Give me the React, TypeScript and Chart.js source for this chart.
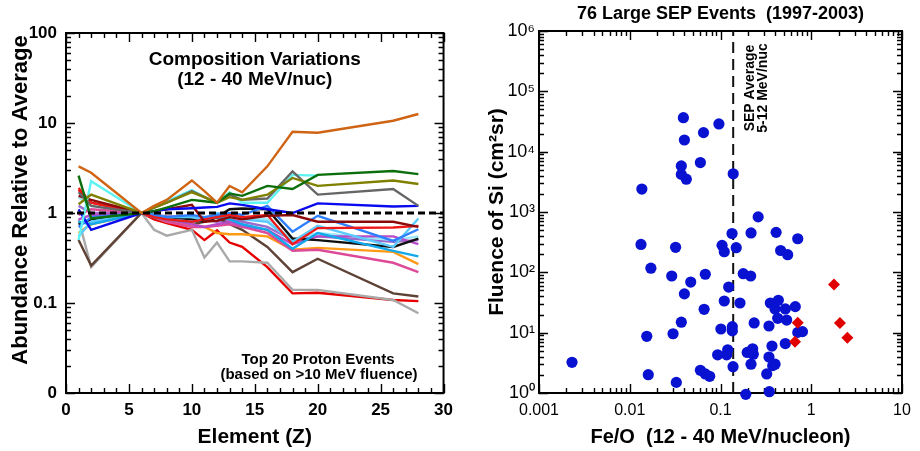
import React, { useEffect, useRef } from 'react';
import { Chart, registerables } from 'chart.js';

Chart.register(...registerables);

const FONT = '"Liberation Sans", Arial, Helvetica, sans-serif';
Chart.defaults.font.family = FONT;
Chart.defaults.color = '#000';

// ---------- Left panel: abundance relative to average vs. element ----------
const elementZ = [1, 2, 6, 7, 8, 10, 11, 12, 13, 14, 16, 18, 20, 26, 28];

const eventA = [3.3, 2.8, 1, 1.2, 1.4, 2.3, 1.75, 1.3, 2.0, 1.7, 3.3, 8.0, 7.8, 10.6, 12.6];
const eventB = [2.6, 0.87, 1, 1.05, 1.15, 1.4, 1.35, 1.3, 1.65, 1.55, 2.0, 1.85, 2.65, 2.93, 2.7];
const eventC = [1.25, 1.6, 1, 1.15, 1.3, 1.7, 1.5, 1.3, 1.5, 1.4, 1.6, 2.45, 2.0, 2.3, 2.1];
const eventD = [1.7, 1.2, 1, 1.15, 1.3, 1.75, 1.5, 1.3, 1.6, 1.4, 1.45, 2.9, 1.6, 1.85, 1.2];
const eventE = [0.5, 2.25, 1, 1.15, 1.35, 1.8, 1.5, 1.3, 1.7, 1.3, 1.3, 2.65, 2.6, null, null];
const eventF = [1.1, 0.65, 1, 1.05, 1.1, 1.13, 1.15, 1.17, 1.28, 1.23, 1.1, 1.0, 1.28, 1.18, 1.2];
const eventG = [1.55, 1.4, 1, 1.05, 1.1, 1.23, 0.8, 0.82, 0.9, 0.85, 0.93, 0.95, 0.8, 0.8, 0.7];
const eventH = [1.9, 1.3, 1, 0.9, 0.85, 0.8, 0.85, 0.9, 0.95, 0.9, 0.95, 0.45, 0.68, 0.69, 0.72];
const eventI = [0.7, 0.9, 1, 0.95, 0.9, 0.95, 0.9, 0.95, 1.0, 0.95, 1.2, 0.62, 0.93, 0.49, 0.66];
const eventJ = [0.8, 0.75, 1, 0.9, 0.85, 0.8, 0.85, 0.9, 0.85, 0.75, 0.65, 0.4, 0.6, 0.38, 0.33];
const eventK = [0.55, 0.8, 1, 0.95, 0.9, 0.9, 0.85, 1.0, 0.95, 0.85, 0.8, 0.48, 0.72, 0.42, 0.87];
const eventL = [0.75, 0.85, 1, 0.95, 0.9, 0.85, 0.8, 0.9, 1.1, 1.12, 1.1, 0.52, 0.5, 0.42, 0.52];
const eventM = [0.85, 0.95, 1, 0.9, 0.85, 0.75, 0.7, 0.75, 0.8, 0.72, 0.65, 0.45, 0.55, 0.55, 0.45];
const eventN = [0.95, 1.1, 1, 0.9, 0.8, 0.7, 0.7, 0.72, 0.75, 0.7, 0.6, 0.38, 0.39, 0.28, 0.22];
const eventO = [0.6, 0.75, 1, 0.9, 0.8, 0.75, 0.7, 0.6, 0.58, 0.58, 0.55, 0.39, 0.41, 0.37, 0.27];
const eventP = [0.5, 0.26, 1, 0.9, 0.8, 0.75, 0.8, 0.9, 0.75, 0.65, 0.42, 0.22, 0.31, 0.128, 0.118];
const eventQ = [0.85, 0.25, 1, 0.65, 0.56, 0.65, 0.32, 0.47, 0.29, 0.29, 0.28, 0.14, 0.14, 0.108, 0.077];
const eventR = [1.8, 1.3, 1, 0.85, 0.77, 0.65, 0.5, 0.64, 0.47, 0.42, 0.25, 0.128, 0.13, 0.108, 0.105];
const eventS = [1.5, 1.2, 1, 0.95, 0.9, 0.85, 0.9, 0.95, 0.9, 0.88, 0.85, 0.5, 0.6, 0.5, 0.55];
const eventT = [1.2, 1.0, 1, 0.95, 0.92, 0.9, 0.85, 0.8, 0.85, 0.8, 0.7, 0.5, 0.55, 0.48, 0.5];

const eventSeries = [
  eventA, eventB, eventC, eventD, eventE, eventF, eventG, eventH, eventI, eventJ,
  eventK, eventL, eventM, eventN, eventO, eventP, eventQ, eventR, eventS, eventT,
];

const eventColors = [
  '#CF6414', '#0B6E0B', '#808000', '#666666', '#5EF2F2', '#0A0AEE', '#8C0A0A', '#EE1A1A', '#2F80FF', '#12A8EC',
  '#5CCBFF', '#111111', '#B84CC8', '#DC4A98', '#FF9A16', '#5E4236', '#A9A9A9', '#E80000', '#9CE8FA', '#9A6ACC',
];

const averageLevel = 1;
const abundanceTicks = [0.01, 0.1, 1, 10, 100];
const abundanceTickLabels = ['0', '0.1', '1', '10', '100'];
const elementTicks = [0, 5, 10, 15, 20, 25, 30];

// ---------- Right panel: Si fluence vs. Fe/O ----------
const feO = [
  0.039, 0.096, 0.065, 0.040, 0.037, 0.060, 0.037, 0.042, 0.138, 0.0136,
  0.26, 0.134, 0.217, 0.41, 0.71, 0.0133, 0.032, 0.104, 0.110, 0.149,
  0.46, 0.55, 0.0171, 0.029, 0.068, 0.047, 0.178, 0.215, 0.123, 0.040,
  0.110, 0.164, 0.354, 0.434, 0.399, 0.518, 0.667, 0.066, 0.427, 0.536,
  0.037, 0.235, 0.342, 0.101, 0.135, 0.135, 0.030, 0.0154, 0.71, 0.80,
  0.518, 0.369, 0.120, 0.093, 0.117, 0.197, 0.226, 0.230, 0.342, 0.00231,
  0.217, 0.399, 0.376, 0.1375, 0.060, 0.068, 0.076, 0.016, 0.323, 0.0326,
  0.190, 0.345,
];
const siFluence = [
  36600, 28800, 20700, 15600, 5800, 6600, 4200, 3500, 4300, 2400,
  830, 440, 450, 460, 360, 290, 260, 280, 220, 256,
  230, 196, 117, 87, 93, 69, 95, 87, 57, 44,
  33.5, 31, 31, 34.4, 24.7, 24.7, 27, 24.4, 17.3, 16.2,
  14.9, 14.5, 12.9, 11.5, 12.6, 10.7, 9.6, 8.7, 10.1, 10.4,
  6.6, 6.0, 5.2, 4.3, 4.3, 4.7, 5.4, 4.4, 3.95, 3.23,
  3.0, 3.0, 2.84, 2.73, 2.38, 2.07, 1.89, 2.01, 2.07, 1.5,
  0.95, 1.05,
];
const feORich = [1.78, 0.71, 2.07, 2.5, 0.662];
const siRich = [63, 14.6, 14.5, 8.2, 7.1];

const sepAverageFeO = 0.138;
const feOTicks = [0.001, 0.01, 0.1, 1, 10];
const feOTickLabels = ['0.001', '0.01', '0.1', '1', '10'];
const fluenceTicks = [1, 10, 100, 1000, 10000, 100000, 1000000];
const fluenceTickLabels = ['10⁰', '10¹', '10²', '10³', '10⁴', '10⁵', '10⁶'];

// ---------- helpers ----------
type Mark = { value: number; major: boolean };

function linearMarks(min: number, max: number, step: number, majorEvery: number): Mark[] {
  const out: Mark[] = [];
  for (let v = min; v <= max + 1e-9; v += step) {
    out.push({ value: v, major: Math.abs(v / majorEvery - Math.round(v / majorEvery)) < 1e-9 });
  }
  return out;
}

function logMarks(min: number, max: number): Mark[] {
  const out: Mark[] = [];
  const d0 = Math.round(Math.log10(min));
  const d1 = Math.round(Math.log10(max));
  for (let d = d0; d < d1; d++) {
    for (let k = 1; k < 10; k++) out.push({ value: k * Math.pow(10, d), major: k === 1 });
  }
  out.push({ value: max, major: true });
  return out;
}

function frameTicksPlugin(xMarks: Mark[], yMarks: Mark[]) {
  return {
    id: 'frameTicks',
    beforeDatasetsDraw(chart: any) {
      const { ctx, chartArea } = chart;
      const { left, right, top, bottom } = chartArea;
      const xs = chart.scales.x;
      const ys = chart.scales.y;
      ctx.save();
      ctx.strokeStyle = '#000';
      ctx.lineWidth = 1.4;
      ctx.beginPath();
      for (const m of xMarks) {
        const p = Math.round(xs.getPixelForValue(m.value)) + 0.5;
        const len = m.major ? 9 : 5;
        ctx.moveTo(p, bottom);
        ctx.lineTo(p, bottom - len);
        ctx.moveTo(p, top);
        ctx.lineTo(p, top + len);
      }
      for (const m of yMarks) {
        const p = Math.round(ys.getPixelForValue(m.value)) + 0.5;
        const len = m.major ? 9 : 5;
        ctx.moveTo(left, p);
        ctx.lineTo(left + len, p);
        ctx.moveTo(right, p);
        ctx.lineTo(right - len, p);
      }
      ctx.stroke();
      ctx.lineWidth = 2;
      ctx.strokeRect(left, top, right - left, bottom - top);
      ctx.restore();
    },
  };
}

type Label = {
  text: string;
  x: (c: any) => number;
  y: (c: any) => number;
  size: number;
  bold?: boolean;
  rotate?: boolean;
};

function labelsPlugin(labels: Label[]) {
  return {
    id: 'panelLabels',
    afterDraw(chart: any) {
      const { ctx } = chart;
      for (const l of labels) {
        ctx.save();
        ctx.fillStyle = '#000';
        ctx.font = `${l.bold === false ? '' : 'bold '}${l.size}px ${FONT}`;
        ctx.textAlign = 'center';
        ctx.textBaseline = 'middle';
        ctx.translate(l.x(chart), l.y(chart));
        if (l.rotate) ctx.rotate(-Math.PI / 2);
        ctx.fillText(l.text, 0, 0);
        ctx.restore();
      }
    },
  };
}

const midX = (c: any) => (c.chartArea.left + c.chartArea.right) / 2;

function useChart(make: (canvas: HTMLCanvasElement) => Chart) {
  const ref = useRef<HTMLCanvasElement | null>(null);
  useEffect(() => {
    if (!ref.current) return;
    const chart = make(ref.current);
    return () => chart.destroy();
  }, []);
  return ref;
}

function CompositionPanel() {
  const ref = useChart((canvas) => {
    const lineSets = eventSeries.map((vals, i) => ({
      data: elementZ
        .map((z, j) => ({ x: z, y: vals[j] }))
        .filter((p) => p.y !== null && p.y !== undefined),
      borderColor: eventColors[i],
      backgroundColor: eventColors[i],
      borderWidth: 2.4,
      showLine: true,
      pointRadius: 0,
      tension: 0,
    }));
    const averageSet = {
      data: [
        { x: 0, y: averageLevel },
        { x: 30, y: averageLevel },
      ],
      borderColor: '#000',
      borderWidth: 3,
      borderDash: [7, 4],
      showLine: true,
      pointRadius: 0,
    };
    return new Chart(canvas, {
      type: 'scatter',
      data: { datasets: [averageSet, ...lineSets] as any },
      plugins: [
        frameTicksPlugin(linearMarks(0, 30, 1, 5), logMarks(0.01, 100)),
        labelsPlugin([
          { text: 'Composition Variations', x: midX, y: (c) => c.chartArea.top + 27, size: 19 },
          { text: '(12 - 40 MeV/nuc)', x: midX, y: (c) => c.chartArea.top + 47, size: 19 },
          { text: 'Top 20 Proton Events', x: (c) => c.chartArea.left + 252, y: (c) => c.chartArea.bottom - 33, size: 15 },
          { text: '(based on >10 MeV fluence)', x: (c) => c.chartArea.left + 253, y: (c) => c.chartArea.bottom - 18, size: 15 },
          { text: 'Abundance Relative to Average', x: () => 21, y: (c) => c.chartArea.top + 167, size: 22, rotate: true },
          { text: 'Element (Z)', x: midX, y: () => 437, size: 21 },
        ]),
      ],
      options: {
        animation: false,
        responsive: false,
        events: [],
        layout: { padding: { top: 33, right: 12, bottom: 0, left: 0 }, autoPadding: false },
        plugins: { legend: { display: false }, tooltip: { enabled: false }, title: { display: false } },
        scales: {
          x: {
            type: 'linear',
            min: 0,
            max: 30,
            grid: { display: false, drawTicks: false },
            border: { display: false },
            afterBuildTicks: (s: any) => {
              s.ticks = elementTicks.map((v) => ({ value: v }));
            },
            afterFit: (s: any) => {
              s.height = 58;
            },
            ticks: {
              padding: 7,
              maxRotation: 0,
              autoSkip: false,
              font: { size: 17, weight: 'bold' },
              callback: (v: any) => String(v),
            },
          },
          y: {
            type: 'logarithmic',
            min: 0.01,
            max: 100,
            grid: { display: false, drawTicks: false },
            border: { display: false },
            afterBuildTicks: (s: any) => {
              s.ticks = abundanceTicks.map((v) => ({ value: v }));
            },
            afterFit: (s: any) => {
              s.width = 66;
            },
            ticks: {
              padding: 9,
              autoSkip: false,
              font: { size: 17, weight: 'bold' },
              callback: (_v: any, i: number) => abundanceTickLabels[i],
            },
          },
        },
      } as any,
    });
  });
  return <canvas ref={ref} width={460} height={451} style={{ width: 460, height: 451, display: 'block' }} />;
}

function FluencePanel() {
  const ref = useChart((canvas) => {
    const events = {
      data: feO.map((x, i) => ({ x, y: siFluence[i] })),
      pointStyle: 'circle',
      pointRadius: 5.6,
      backgroundColor: '#0A12D2',
      borderColor: '#0A12D2',
      borderWidth: 0,
      clip: false,
    };
    const ironRich = {
      data: feORich.map((x, i) => ({ x, y: siRich[i] })),
      pointStyle: 'rectRot',
      pointRadius: 6,
      backgroundColor: '#E00000',
      borderColor: '#E00000',
      borderWidth: 0,
      clip: false,
    };
    const averageLine = {
      data: [
        { x: sepAverageFeO, y: 1 },
        { x: sepAverageFeO, y: 1e6 },
      ],
      showLine: true,
      pointRadius: 0,
      borderColor: '#111',
      borderWidth: 2,
      borderDash: [11, 6],
    };
    const lineX = (c: any) => c.scales.x.getPixelForValue(sepAverageFeO);
    return new Chart(canvas, {
      type: 'scatter',
      data: { datasets: [ironRich, events, averageLine] as any },
      plugins: [
        frameTicksPlugin(logMarks(0.001, 10), logMarks(1, 1e6)),
        labelsPlugin([
          { text: '76 Large SEP Events  (1997-2003)', x: midX, y: () => 14, size: 18 },
          { text: 'SEP Average', x: (c) => lineX(c) + 17, y: (c) => c.chartArea.top + 57, size: 14, rotate: true },
          { text: '5-12 MeV/nuc', x: (c) => lineX(c) + 30, y: (c) => c.chartArea.top + 57, size: 14, rotate: true },
          { text: 'Fluence of Si (cm²sr)', x: () => 37, y: (c) => (c.chartArea.top + c.chartArea.bottom) / 2, size: 21, rotate: true },
          { text: 'Fe/O  (12 - 40 MeV/nucleon)', x: midX, y: () => 437, size: 20 },
        ]),
      ],
      options: {
        animation: false,
        responsive: false,
        events: [],
        layout: { padding: { top: 31, right: 18, bottom: 0, left: 0 }, autoPadding: false },
        plugins: { legend: { display: false }, tooltip: { enabled: false }, title: { display: false } },
        scales: {
          x: {
            type: 'logarithmic',
            min: 0.001,
            max: 10,
            grid: { display: false, drawTicks: false },
            border: { display: false },
            afterBuildTicks: (s: any) => {
              s.ticks = feOTicks.map((v) => ({ value: v }));
            },
            afterFit: (s: any) => {
              s.height = 58;
            },
            ticks: {
              padding: 8,
              maxRotation: 0,
              autoSkip: false,
              font: { size: 16 },
              callback: (_v: any, i: number) => feOTickLabels[i],
            },
          },
          y: {
            type: 'logarithmic',
            min: 1,
            max: 1e6,
            grid: { display: false, drawTicks: false },
            border: { display: false },
            afterBuildTicks: (s: any) => {
              s.ticks = fluenceTicks.map((v) => ({ value: v }));
            },
            afterFit: (s: any) => {
              s.width = 79;
            },
            ticks: {
              padding: 4,
              autoSkip: false,
              font: { size: 18 },
              callback: (_v: any, i: number) => fluenceTickLabels[i],
            },
          },
        },
      } as any,
    });
  });
  return <canvas ref={ref} width={460} height={451} style={{ width: 460, height: 451, display: 'block' }} />;
}

export default function App() {
  return (
    <div
      style={{
        position: 'absolute',
        left: 0,
        top: 0,
        width: 920,
        height: 451,
        display: 'flex',
        background: '#fff',
      }}
    >
      <CompositionPanel />
      <FluencePanel />
    </div>
  );
}
